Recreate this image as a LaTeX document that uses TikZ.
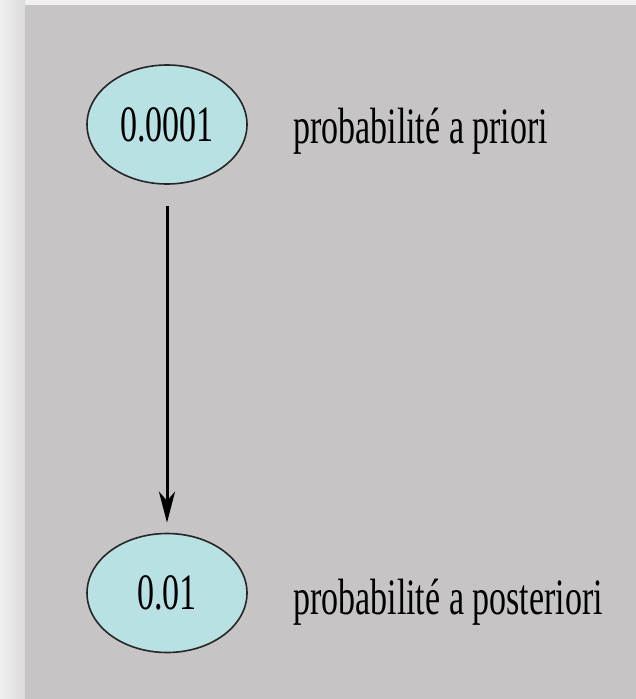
\documentclass[tikz,border=0pt]{standalone}
\usepackage{fontspec}
\setmainfont{Liberation Serif}
\usetikzlibrary{shapes.geometric,arrows.meta}
\definecolor{slidegray}{HTML}{C6C4C5}
\definecolor{edgelight}{HTML}{F0F0F0}
\definecolor{edgedark}{HTML}{DADADA}
\definecolor{nodecyan}{HTML}{B9E0E3}
\newcommand{\tallText}[1]{\scalebox{1}[1.5]{\fontsize{34}{34}\selectfont #1}}
\tikzset{
  prob/.style={ellipse, draw=black!85, line width=1.6pt, fill=nodecyan,
    minimum width=160pt, minimum height=119pt, inner sep=0pt},
  lbl/.style={anchor=base west, inner sep=0pt},
  link/.style={line width=3pt, -{Stealth[length=31pt,width=16pt,inset=9pt]},
    shorten <=21pt, shorten >=10pt}
}
\begin{document}
\begin{tikzpicture}[x=1pt,y=-1pt]
\useasboundingbox (0,0) rectangle (636,699);
\fill[edgelight] (0,0) rectangle (636,699);
\shade[left color=edgelight, right color=edgedark] (0,0) rectangle (25,699);
\fill[slidegray] (25,5) rectangle (636,699);
\node[prob] (prior) at (167,124.5) {\tallText{0.0001}};
\node[prob] (post) at (167,593) {\tallText{0.01}};
\node[lbl] (priorlbl) at (293,143) {\tallText{probabilité a priori}};
\node[lbl] (postlbl) at (293,614) {\tallText{probabilité a posteriori}};
\draw[link] (prior.south) -- (post.north);
\end{tikzpicture}
\end{document}
